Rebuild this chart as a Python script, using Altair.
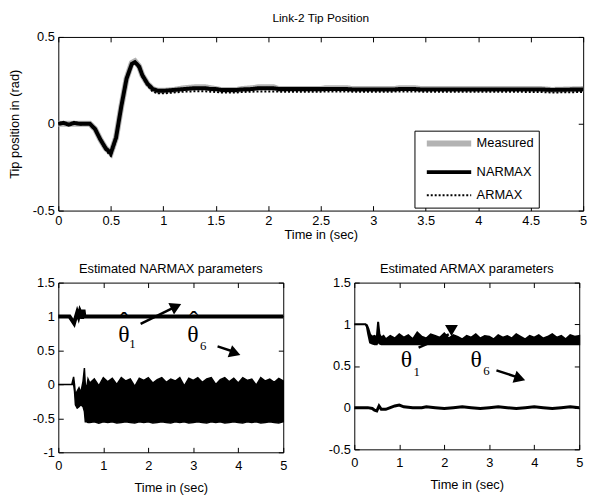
import altair as alt
import pandas as pd

FONT = "Liberation Sans"
SERIF = "Liberation Serif"

# ---------------- Top panel data ----------------
t_top = [0, 0.05, 0.1, 0.15, 0.2, 0.25, 0.3, 0.35, 0.4, 0.45, 0.5, 0.55, 0.6, 0.65, 0.7, 0.73,
         0.77, 0.8, 0.85, 0.9, 0.95, 1.0, 1.1, 1.2, 1.3, 1.4, 1.45, 1.5, 1.55, 1.7, 1.75, 1.85,
         1.9, 2.05, 2.1, 2.5, 2.55, 2.75, 2.8, 3.2, 3.25, 3.4, 3.45, 4.0, 4.6, 4.7, 5.0]
measured = [0, 0, 0, 0, 0, 0, 0, -0.03, -0.09, -0.14, -0.17, -0.08, 0.1, 0.26, 0.35, 0.36,
            0.33, 0.28, 0.23, 0.2, 0.19, 0.19, 0.195, 0.205, 0.21, 0.21, 0.205, 0.2, 0.195, 0.195, 0.2, 0.205,
            0.21, 0.21, 0.2, 0.2, 0.205, 0.205, 0.2, 0.2, 0.205, 0.205, 0.2, 0.2, 0.2, 0.195, 0.2]
narmax = [0, 0.005, -0.005, 0.005, 0, 0, 0, -0.03, -0.09, -0.14, -0.17, -0.08, 0.1, 0.26, 0.345, 0.355,
          0.33, 0.28, 0.23, 0.2, 0.19, 0.19, 0.195, 0.2, 0.205, 0.205, 0.2, 0.2, 0.195, 0.195, 0.198, 0.2,
          0.205, 0.205, 0.2, 0.2, 0.2, 0.2, 0.198, 0.198, 0.2, 0.2, 0.198, 0.198, 0.198, 0.195, 0.198]
armax = [0, 0.008, -0.008, 0.008, -0.005, 0, 0, -0.035, -0.095, -0.15, -0.185, -0.09, 0.09, 0.25, 0.34, 0.35,
         0.32, 0.27, 0.22, 0.185, 0.175, 0.175, 0.18, 0.185, 0.187, 0.187, 0.185, 0.183, 0.18, 0.18, 0.183, 0.185,
         0.186, 0.186, 0.185, 0.185, 0.186, 0.186, 0.185, 0.185, 0.186, 0.186, 0.185, 0.185, 0.183, 0.18, 0.183]
series_names = ["Measured", "NARMAX", "ARMAX"]

# ---------------- NARMAX parameters ----------------
t_n1 = [0, 0.25, 0.3, 0.35, 0.38, 0.42, 0.45, 0.48, 0.5, 0.53, 0.56, 0.58, 0.62, 5.0]
n_theta1 = [1, 1, 0.95, 0.9, 0.97, 1.06, 1.0, 1.08, 1.05, 0.97, 1.1, 1.0, 1.0, 1.0]

t_n6 = [0, 0.3, 0.34, 0.36, 0.38, 0.42, 0.46, 0.5, 0.55, 0.58, 0.6, 0.63, 0.66] + \
       [round(0.7 + 0.1 * i, 2) for i in range(44)]
n6_upper = [0, 0, 0.11, 0.0, -0.15, -0.1, -0.05, -0.12, 0.05, 0.24, 0.0, -0.05, 0.08,
            0.02, 0.08, -0.02, 0.1, 0.04, 0.09, 0.0, 0.1, 0.05, 0.08, -0.03, 0.09, 0.06, 0.1,
            0.02, 0.07, 0.1, 0.03, 0.08, 0.05, 0.1, -0.02, 0.09, 0.06, 0.1, 0.03, 0.08, 0.1,
            0.0, 0.07, 0.1, 0.04, 0.09, 0.02, 0.1, 0.06, 0.08, -0.01, 0.1, 0.05, 0.08, 0.03,
            0.09, 0.05]
n6_lower = [0, 0, 0, -0.1, -0.3, -0.35, -0.33, -0.3, -0.33, -0.4, -0.55, -0.55, -0.56] + \
           [-0.56, -0.55, -0.57, -0.55, -0.56, -0.55, -0.57, -0.56, -0.55, -0.56, -0.57,
            -0.55, -0.56, -0.55, -0.57, -0.56, -0.55, -0.56, -0.57, -0.55, -0.56, -0.55,
            -0.57, -0.56, -0.55, -0.56, -0.57, -0.55, -0.56, -0.55, -0.57, -0.56, -0.55,
            -0.56, -0.57, -0.55, -0.56, -0.55, -0.57, -0.56, -0.55, -0.56, -0.57, -0.55]

# ---------------- ARMAX parameters ----------------
t_a1 = [0, 0.25, 0.28, 0.31, 0.35, 0.4, 0.45, 0.5, 0.53, 0.56, 0.6, 0.65] + \
       [round(0.7 + 0.1 * i, 2) for i in range(44)]
a1_upper = [1, 1, 0.99, 0.95, 0.88, 0.85, 0.86, 0.84, 1.03, 0.88, 0.84, 0.86,
            0.82, 0.86, 0.83, 0.88, 0.84, 0.87, 0.82, 0.9, 0.85, 0.83,
            0.88, 0.86, 0.84, 0.89, 0.83, 0.87, 0.85, 0.82, 0.86, 0.84,
            0.88, 0.83, 0.86, 0.85, 0.82, 0.87, 0.84, 0.86, 0.83, 0.88,
            0.85, 0.82, 0.86, 0.84, 0.87, 0.83, 0.85, 0.88, 0.84, 0.86,
            0.82, 0.87, 0.85, 0.86]
a1_lower = [1, 1, 0.97, 0.88, 0.78, 0.77, 0.76, 0.76, 0.8, 0.77, 0.76, 0.76] + [0.76] * 44

t_a6 = [0, 0.3, 0.4, 0.45, 0.5, 0.55, 0.6, 0.7, 0.8, 0.9, 1.0, 1.1, 1.3, 1.5, 1.6, 1.8, 2.0,
        2.2, 2.4, 2.6, 2.8, 3.0, 3.2, 3.4, 3.6, 3.8, 4.0, 4.2, 4.4, 4.6, 4.8, 5.0]
a_theta6 = [0, 0, -0.01, -0.03, -0.04, 0.02, -0.02, -0.02, 0.0, 0.02, 0.03, 0.01, 0.0, 0.0,
            0.01, 0.0, -0.01, 0.0, 0.01, 0.0, -0.01, 0.0, 0.01, 0.0, -0.01, 0.0, 0.01, 0.0,
            -0.01, 0.0, 0.01, 0.0]

# ---------------- annotations (data coordinates) ----------------
n_labels = {"t": [1.46, 2.99], "v": [0.727, 0.727], "txt": ["θ", "θ"]}
n_subs = {"t": [1.65, 3.22], "v": [0.60, 0.57], "txt": ["1", "6"]}
n_hats = {"t": [1.46, 3.01], "v": [0.92, 0.93], "txt": ["ˆ", "ˆ"]}
n_arrows = {"t": [1.83, 3.54], "v": [0.893, 0.56], "t2": [2.62, 3.95], "v2": [1.15, 0.47]}
n_heads = {"t": [2.62, 3.93], "v": [1.15, 0.46], "ang": [64, 110]}

a_labels = {"t": [1.16, 2.71], "v": [0.571, 0.571], "txt": ["θ", "θ"]}
a_subs = {"t": [1.39, 2.94], "v": [0.43, 0.435], "txt": ["1", "6"]}
a_arrows = {"t": [1.43, 3.16], "v": [0.72, 0.447], "t2": [2.1, 3.6], "v2": [0.88, 0.37]}
a_heads = {"t": [2.16, 3.68], "v": [0.925, 0.35], "ang": [180, 108]}

LBL = "'' + datum.value"


def encs(xdom, ydom, xticks, yticks, xtitle, ytitle, xlp, xtp):
    xax = alt.Axis(values=xticks, title=xtitle, offset=-5, tickSize=5, domain=False,
                   labelPadding=xlp, titlePadding=xtp, labelExpr=LBL, labelFlush=False)
    yax = alt.Axis(values=yticks, title=ytitle, offset=-5, tickSize=5, domain=False,
                   labelPadding=4, titlePadding=11, labelExpr=LBL, labelFlush=False)
    X = lambda f="t": alt.X(f + ":Q", scale=alt.Scale(domain=xdom, nice=False, zero=False), axis=xax)
    Y = lambda f="v": alt.Y(f + ":Q", scale=alt.Scale(domain=ydom, nice=False, zero=False), axis=yax)
    return X, Y


def frame(xdom, ydom, xticks, yticks):
    d = pd.DataFrame({"t": [xdom[0]], "v": [ydom[0]]})
    return alt.Chart(d).mark_point(opacity=0, size=1).encode(
        x=alt.X("t:Q", scale=alt.Scale(domain=xdom, nice=False, zero=False),
                axis=alt.Axis(orient="top", values=xticks, labels=False, title=None,
                              offset=-5, tickSize=5, domain=False, minExtent=0, maxExtent=0)),
        y=alt.Y("v:Q", scale=alt.Scale(domain=ydom, nice=False, zero=False),
                axis=alt.Axis(orient="right", values=yticks, labels=False, title=None,
                              offset=-5, tickSize=5, domain=False, minExtent=0, maxExtent=0)),
    )


# ---------------- Top chart ----------------
xt = [0, 0.5, 1, 1.5, 2, 2.5, 3, 3.5, 4, 4.5, 5]
yt = [-0.5, 0, 0.5]
X, Y = encs([0, 5], [-0.5, 0.5], xt, yt, "Time in (sec)", "Tip position in (rad)", 4, 1)

top_df = pd.concat([
    pd.DataFrame({"t": t_top, "v": measured, "s": "Measured"}),
    pd.DataFrame({"t": t_top, "v": narmax, "s": "NARMAX"}),
    pd.DataFrame({"t": t_top, "v": armax, "s": "ARMAX"}),
])
PADS = "\u00a0" * 18
leg = alt.Legend(title=None, orient="none", legendX=361, legendY=95, fillColor="white",
                 strokeColor="black", padding=5, symbolType="M-4.5,0H4.5", symbolSize=100,
                 symbolOffset=22, labelOffset=20,
                 labelExpr="datum.label + '" + PADS + "'", labelLimit=250,
                 labelFont=FONT, labelFontSize=13, labelColor="black", rowPadding=9)
enc_common = dict(
    color=alt.Color("s:N", scale=alt.Scale(domain=series_names, range=["#b3b3b3", "black", "black"]), legend=leg),
    strokeDash=alt.StrokeDash("s:N", scale=alt.Scale(domain=series_names, range=[[1, 0], [1, 0], [2, 2]]), legend=leg),
    strokeWidth=alt.StrokeWidth("s:N", scale=alt.Scale(domain=series_names, range=[6, 2, 2]), legend=leg),
)
base_top = alt.Chart(top_df)
lines_top = alt.layer(*[
    base_top.transform_filter(alt.datum.s == nm).mark_line().encode(x=X(), y=Y(), order="t:Q", **enc_common)
    for nm in series_names
])
top = alt.layer(lines_top, frame([0, 5], [-0.5, 0.5], xt, yt)).resolve_axis(x="independent", y="independent").properties(
    width=532, height=176,
    title=alt.Title("Link-2 Tip Position", fontSize=12, font=FONT, fontWeight="normal", offset=6))


def annot(X, Y, labels, subs, hats, arrows, heads):
    layers = []
    layers.append(alt.Chart(pd.DataFrame(labels)).mark_text(font=SERIF, fontSize=24, color="black",
                                                             baseline="middle", align="center").encode(x=X(), y=Y(), text="txt:N"))
    layers.append(alt.Chart(pd.DataFrame(subs)).mark_text(font=SERIF, fontSize=13, color="black",
                                                           baseline="middle", align="center").encode(x=X(), y=Y(), text="txt:N"))
    if hats is not None:
        layers.append(alt.Chart(pd.DataFrame(hats)).mark_text(font=SERIF, fontSize=26, color="black",
                                                               baseline="middle", align="center").encode(x=X(), y=Y(), text="txt:N"))
    layers.append(alt.Chart(pd.DataFrame(arrows)).mark_rule(color="black", strokeWidth=2.5).encode(
        x=X(), y=Y(), x2="t2:Q", y2="v2:Q"))
    layers.append(alt.Chart(pd.DataFrame(heads)).mark_point(shape="triangle-up", filled=True, color="black",
                                                            size=170, opacity=1).encode(
        x=X(), y=Y(), angle=alt.Angle("ang:Q", scale=None)))
    return layers


# ---------------- Bottom-left ----------------
xb = [0, 1, 2, 3, 4, 5]
ybl = [-1, -0.5, 0, 0.5, 1, 1.5]
XL, YL = encs([0, 5], [-1, 1.5], xb, ybl, "Time in (sec)", None, 7, 10)
n1 = alt.Chart(pd.DataFrame({"t": t_n1, "v": n_theta1})).mark_line(color="black", strokeWidth=4).encode(x=XL(), y=YL())
n6 = alt.Chart(pd.DataFrame({"t": t_n6, "v": n6_lower, "v2": n6_upper})).mark_area(
    color="black", stroke="black", strokeWidth=1.5, opacity=1).encode(x=XL(), y=YL(), y2="v2:Q")
bl_inner = alt.layer(n1, n6, *annot(XL, YL, n_labels, n_subs, n_hats, n_arrows, n_heads))
bl = alt.layer(bl_inner, frame([0, 5], [-1, 1.5], xb, ybl)).resolve_axis(x="independent", y="independent").properties(
    width=228, height=172,
    title=alt.Title("Estimated NARMAX parameters", fontSize=13, font=FONT, fontWeight="normal", offset=1))

# ---------------- Bottom-right ----------------
ybr = [-0.5, 0, 0.5, 1, 1.5]
XR, YR = encs([0, 5], [-0.5, 1.5], xb, ybr, "Time in (sec)", None, 7, 10)
a1 = alt.Chart(pd.DataFrame({"t": t_a1, "v": a1_lower, "v2": a1_upper})).mark_area(
    color="black", stroke="black", strokeWidth=2, opacity=1).encode(x=XR(), y=YR(), y2="v2:Q")
a6 = alt.Chart(pd.DataFrame({"t": t_a6, "v": a_theta6})).mark_line(color="black", strokeWidth=3).encode(x=XR(), y=YR())
br_inner = alt.layer(a1, a6, *annot(XR, YR, a_labels, a_subs, None, a_arrows, a_heads))
br = alt.layer(br_inner, frame([0, 5], [-0.5, 1.5], xb, ybr)).resolve_axis(x="independent", y="independent").properties(
    width=228, height=169,
    title=alt.Title("Estimated ARMAX parameters", fontSize=13, font=FONT, fontWeight="normal", offset=1))

bottom = alt.hconcat(bl, br, spacing=36)
chart = alt.vconcat(top, bottom, spacing=20).configure(
    background="white", padding={"left": 0, "top": 0, "right": 0, "bottom": 0}
).configure_view(stroke="black", strokeWidth=1).configure_axis(
    grid=False, labelFont=FONT, labelFontSize=13, labelColor="black", titleFont=FONT,
    titleFontSize=13, titleFontWeight="normal", titleColor="black", tickColor="black", tickWidth=1
)

chart.save("out.html", embed_options={"renderer": "svg", "actions": False})
